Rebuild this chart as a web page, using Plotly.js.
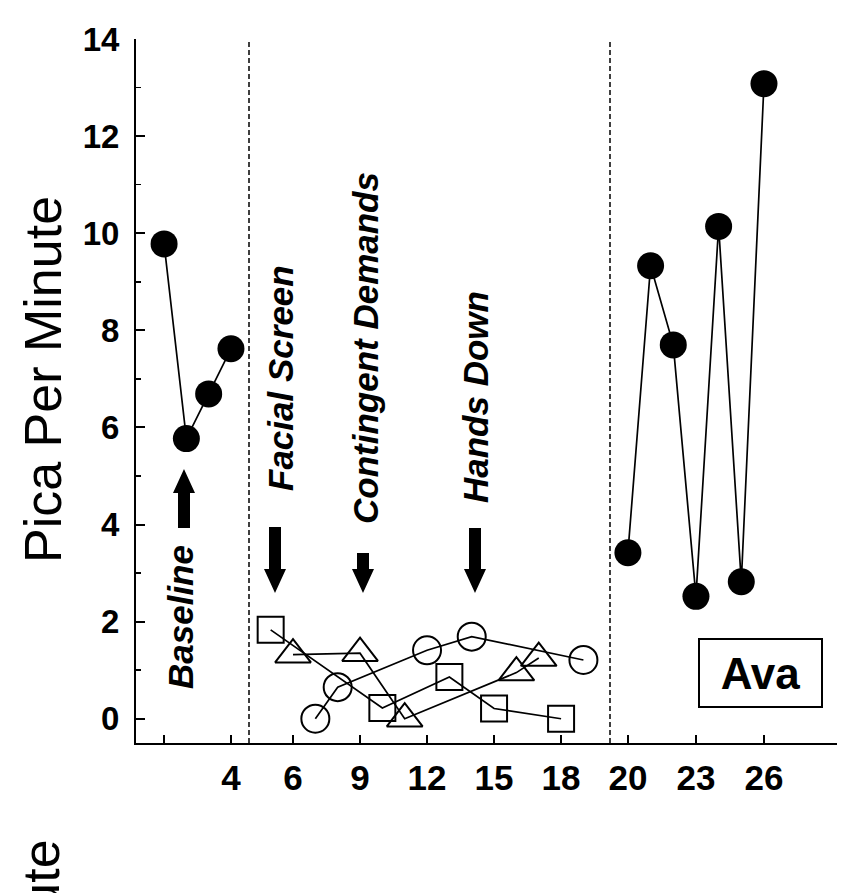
<!DOCTYPE html>
<html><head><meta charset="utf-8">
<script src="https://cdn.plot.ly/plotly-3.0.1.min.js"></script>
<style>html,body{margin:0;padding:0;background:#fff;overflow:hidden}</style>
</head><body><div id="chart" style="width:845px;height:893px"></div>
<script>
// ---- data (sessions and pica per minute) ----
const baselineSessions = [1, 2, 3, 4];
const baselinePica = [9.78, 5.77, 6.69, 7.62];
const facialScreenSessions = [5, 10, 13, 15, 18];
const facialScreenPica = [1.83, 0.22, 0.86, 0.21, 0.0];
const contingentSessions = [6, 9, 11, 16, 17];
const contingentPica = [1.32, 1.35, 0.0, 0.95, 1.25];
const handsDownSessions = [7, 8, 12, 14, 19];
const handsDownPica = [0.0, 0.65, 1.41, 1.69, 1.21];
const returnSessions = [20, 21, 22, 23, 24, 25, 26];
const returnPica = [3.42, 9.33, 7.70, 2.52, 10.14, 2.82, 13.08];
const phase1Ticks = [1, 4];
const phase1TickText = ['', '4'];
const phase2Ticks = [6, 9, 12, 15, 18];
const phase3Ticks = [20, 23, 26];
const yTicks = [0, 2, 4, 6, 8, 10, 12, 14];
const yMinorTicks = [1, 3, 5, 7, 9, 11, 13];

// ---- layout geometry ----
const W = 845, H = 893;
const PL = 136, PR = 837, PT = 39, PB = 743;
const pw = PR - PL, ph = PB - PT;
const px2x = p => (p - PL) / pw;
const px2y = p => (PB - p) / ph;
const d1 = px2x(249), d2 = px2x(610);
const FONT = 'Liberation Sans, Arial, Helvetica, sans-serif';

const lineStyle = {color: '#000', width: 1.7};
const traces = [
  {x: baselineSessions, y: baselinePica, xaxis: 'x', yaxis: 'y', mode: 'lines+markers',
   line: lineStyle, marker: {symbol: 'circle', size: 27, color: '#000'}},
  {x: facialScreenSessions, y: facialScreenPica, xaxis: 'x2', yaxis: 'y', mode: 'lines+markers',
   line: lineStyle, marker: {symbol: 'square-open', size: 26, color: '#000', line: {width: 2, color: '#000'}}},
  {x: contingentSessions, y: contingentPica, xaxis: 'x2', yaxis: 'y', mode: 'lines+markers',
   line: lineStyle, marker: {symbol: 'triangle-up-open', size: 31, color: '#000', line: {width: 2, color: '#000'}}},
  {x: handsDownSessions, y: handsDownPica, xaxis: 'x2', yaxis: 'y', mode: 'lines+markers',
   line: lineStyle, marker: {symbol: 'circle-open', size: 28, color: '#000', line: {width: 2, color: '#000'}}},
  {x: returnSessions, y: returnPica, xaxis: 'x3', yaxis: 'y', mode: 'lines+markers',
   line: lineStyle, marker: {symbol: 'circle', size: 27, color: '#000'}}
];

const tickFontX = {family: FONT, size: 35, color: '#000', weight: 'bold'};
const xBase = {showline: true, linewidth: 2, linecolor: '#000', ticks: 'inside', ticklen: 8,
  tickwidth: 2, tickcolor: '#000', showgrid: false, zeroline: false, anchor: 'y',
  tickfont: tickFontX, tickmode: 'array', ticklabelstandoff: 3, fixedrange: true};

// arrows as shapes (pixel geometry converted to paper coords)
function arrowShapes(cx, yTail, yTip) {
  const sw = 6, hw = 11, hl = 24;
  const dir = yTip > yTail ? 1 : -1;
  const yHeadBase = yTip - dir * hl;
  const pts = [
    [cx - sw, yTail], [cx + sw, yTail], [cx + sw, yHeadBase], [cx + hw, yHeadBase],
    [cx, yTip], [cx - hw, yHeadBase], [cx - sw, yHeadBase]
  ];
  const path = 'M' + pts.map(p => px2x(p[0]).toFixed(5) + ',' + px2y(p[1]).toFixed(5)).join(' L') + ' Z';
  return {type: 'path', xref: 'paper', yref: 'paper', path: path, fillcolor: '#000', line: {width: 0}};
}

const shapes = [
  {type: 'line', xref: 'paper', yref: 'y', x0: d1, x1: d1, y0: -0.5, y1: 14,
   line: {color: '#000', width: 1.5, dash: '5px,3px'}},
  {type: 'line', xref: 'paper', yref: 'y', x0: d2, x1: d2, y0: -0.5, y1: 14,
   line: {color: '#000', width: 1.5, dash: '5px,3px'}},
  arrowShapes(184, 528, 469),
  arrowShapes(275, 527, 593),
  arrowShapes(363, 553, 593),
  arrowShapes(475, 528, 593)
];

const labFont = {family: FONT, size: 35, color: '#000', weight: 'bold', style: 'italic'};
function vlabel(text, cx, cy) {
  return {text: text, xref: 'paper', yref: 'paper', x: px2x(cx), y: px2y(cy),
    xanchor: 'center', yanchor: 'middle', textangle: -90, showarrow: false, font: labFont};
}
const annotations = [
  vlabel('Baseline', 180, 617),
  vlabel('Facial Screen', 280, 378),
  vlabel('Contingent Demands', 365, 348),
  vlabel('Hands Down', 475, 397),
  {text: 'Pica Per Minute', xref: 'paper', yref: 'paper', x: px2x(43), y: px2y(380),
   xanchor: 'center', yanchor: 'middle', textangle: -90, showarrow: false,
   font: {family: FONT, size: 52, color: '#000'}},
  {text: 'Pica Per Minute', xref: 'paper', yref: 'paper', x: px2x(40), y: px2y(838),
   xanchor: 'center', yanchor: 'top', textangle: -90, showarrow: false,
   font: {family: FONT, size: 52, color: '#000'}},
  {text: 'Ava', xref: 'paper', yref: 'paper', x: px2x(760), y: px2y(673),
   xanchor: 'center', yanchor: 'middle', showarrow: false, width: 121, height: 66,
   bordercolor: '#000', borderwidth: 2, borderpad: 0, bgcolor: '#fff',
   font: {family: FONT, size: 44, color: '#000', weight: 'bold'}}
];

const layout = {
  width: W, height: H,
  margin: {l: PL, r: W - PR, t: PT, b: H - PB, pad: 0},
  paper_bgcolor: '#fff', plot_bgcolor: '#fff',
  showlegend: false,
  xaxis: Object.assign({}, xBase, {domain: [0, d1], range: [-0.26, 4.81],
    tickvals: phase1Ticks, ticktext: phase1TickText}),
  xaxis2: Object.assign({}, xBase, {domain: [d1, d2], range: [4.03, 20.19],
    tickvals: phase2Ticks, ticktext: phase2Ticks.map(String)}),
  xaxis3: Object.assign({}, xBase, {domain: [d2, 1], range: [19.21, 29.22],
    tickvals: phase3Ticks, ticktext: phase3Ticks.map(String)}),
  yaxis: {domain: [0, 1], range: [-0.5, 14], anchor: 'x', showline: true, linewidth: 2,
    linecolor: '#000', ticks: 'inside', ticklen: 9, tickwidth: 2, tickcolor: '#000',
    tickmode: 'array', tickvals: yTicks, ticktext: yTicks.map(String),
    minor: {tickmode: 'array', tickvals: yMinorTicks, ticks: 'inside', ticklen: 5, tickwidth: 1.5, tickcolor: '#000', showgrid: false},
    showgrid: false, zeroline: false, ticklabelstandoff: 8, fixedrange: true,
    tickfont: {family: FONT, size: 33, color: '#000', weight: 'bold'}},
  shapes: shapes,
  annotations: annotations
};

Plotly.newPlot('chart', traces, layout, {displayModeBar: false, staticPlot: true});
</script>
</body></html>
